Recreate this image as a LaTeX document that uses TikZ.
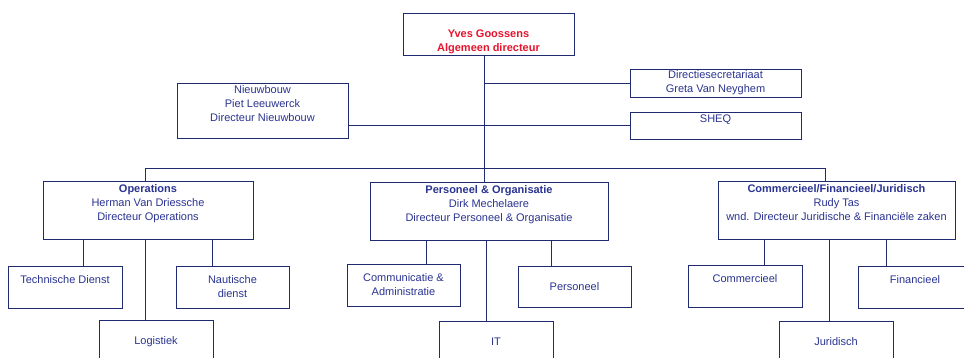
\documentclass[tikz,border=0pt]{standalone}
\usepackage{fontspec}
\setmainfont{Liberation Sans}
\usepackage{tikz}
\usetikzlibrary{positioning}
\definecolor{navy}{RGB}{32,42,112}
\definecolor{navytext}{RGB}{42,52,145}
\definecolor{chiefred}{RGB}{230,20,45}

\begin{document}
\begin{tikzpicture}[
    x=1pt, y=-1pt,
    unit/.style={rectangle, draw=navy, line width=0.9pt, fill=white, inner sep=0pt, align=center,
      text=navytext, font=\fontsize{11}{14}\selectfont},
    line/.style={draw=navy, line width=0.9pt}
  ]
  \path[use as bounding box, clip] (0,0) rectangle (964,358);

  % directie
  \node[unit, minimum width=171pt, minimum height=42pt, text=chiefred, font=\fontsize{11}{14}\selectfont\bfseries]
    (ceo) at (488.5, 34) {\strut\\Yves Goossens\\Algemeen directeur};
  \node[unit, minimum width=171pt, minimum height=55pt] (nieuw) at (262.5, 110.5)
    {Nieuwbouw\\Piet Leeuwerck\\Directeur Nieuwbouw\\~};
  \node[unit, minimum width=171pt, minimum height=28pt] (secr) at (715.5, 83)
    {Directiesecretariaat\\Greta Van Neyghem};
  \node[unit, minimum width=171pt, minimum height=27pt] (sheq) at (715.5, 125.5) {SHEQ\\~};

  % afdelingen
  \node[unit, minimum width=210pt, minimum height=58pt] (ops) at (148, 210)
    {\textbf{Operations}\\Herman Van Driessche\\Directeur Operations\\~};
  \node[unit, minimum width=238pt, minimum height=58pt] (pers) at (489, 211)
    {\textbf{Personeel \& Organisatie}\\Dirk Mechelaere\\Directeur Personeel \& Organisatie\\~};
  \node[unit, minimum width=237pt, minimum height=58pt] (cfj) at (836.5, 210)
    {\textbf{Commercieel/Financieel/Juridisch}\\Rudy Tas\\wnd. Directeur Juridische \& Financiële zaken\\~};

  % diensten
  \node[unit, minimum width=114pt, minimum height=42pt] (tech) at (65, 287) {Technische Dienst\\~};
  \node[unit, minimum width=113pt, minimum height=42pt] (naut) at (232.5, 287) {Nautische\\dienst};
  \node[unit, minimum width=114pt, minimum height=44pt] (log) at (156, 342) {Logistiek};
  \node[unit, minimum width=113pt, minimum height=42pt] (comm) at (403.5, 285) {Communicatie \&\\Administratie};
  \node[unit, minimum width=113pt, minimum height=41pt] (perso) at (574.5, 286.5) {Personeel};
  \node[unit, minimum width=114pt, minimum height=42pt] (it) at (496, 342) {IT};
  \node[unit, minimum width=114pt, minimum height=42pt] (comc) at (745, 286) {Commercieel\\~};
  \node[unit, minimum width=114pt, minimum height=42pt] (fin) at (915, 287) {Financieel\\~};
  \node[unit, minimum width=114pt, minimum height=42pt] (jur) at (836, 342) {Juridisch};

  \coordinate (trunk) at (484, 168);
  \coordinate (busL) at (145, 168);
  \coordinate (busR) at (825, 168);

  \draw[line] (ceo.south -| trunk) -- (trunk |- pers.north);
  \draw[line] (secr.west) -- (secr.west -| trunk);
  \draw[line] (nieuw.east |- sheq.west) -- (sheq.west);
  \draw[line] (busL |- ops.north) -- (busL) -- (busR) -- (busR |- cfj.north);

  \draw[line] (83,0 |- ops.south) -- (83,0 |- tech.north);
  \draw[line] (212,0 |- ops.south) -- (212,0 |- naut.north);
  \draw[line] (145,0 |- ops.south) -- (145,0 |- log.north);
  \draw[line] (426,0 |- pers.south) -- (426,0 |- comm.north);
  \draw[line] (551,0 |- pers.south) -- (551,0 |- perso.north);
  \draw[line] (486,0 |- pers.south) -- (486,0 |- it.north);
  \draw[line] (764,0 |- cfj.south) -- (764,0 |- comc.north);
  \draw[line] (886,0 |- cfj.south) -- (886,0 |- fin.north);
  \draw[line] (829,0 |- cfj.south) -- (829,0 |- jur.north);

\end{tikzpicture}
\end{document}
